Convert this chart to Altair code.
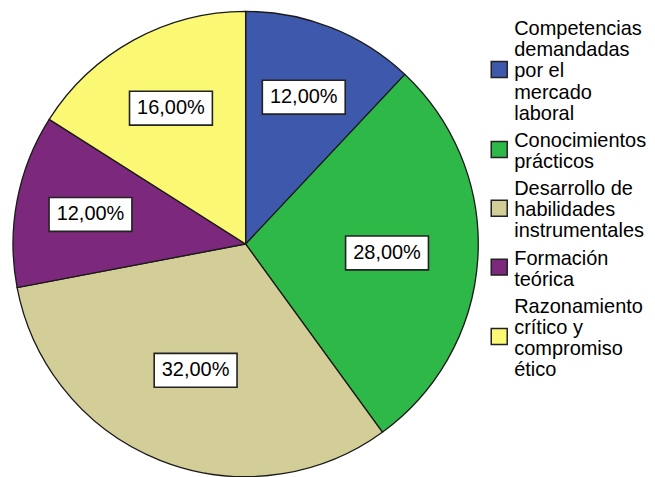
import altair as alt
import pandas as pd

cats = ["Competencias|demandadas|por el|mercado|laboral",
        "Conocimientos|prácticos",
        "Desarrollo de|habilidades|instrumentales",
        "Formación|teórica",
        "Razonamiento|crítico y|compromiso|ético"]
pct = [12, 28, 32, 12, 16]
colors = ["#3E58AC", "#2EB848", "#D3CE97", "#7C287D", "#FBF873"]
labels = ["12,00%", "28,00%", "32,00%", "12,00%", "16,00%"]

df = pd.DataFrame({"cat": cats, "pct": pct, "label": labels, "idx": list(range(len(cats)))})

W, H = 476, 468
R = 233
K = 162          # label distance factor (centroid-like placement)
LW = 163         # legend panel width
LH = 21.1        # legend line height
GAP = 6.2        # extra gap between legend entries
T0 = 19          # first legend line centre
FONT = "Liberation Sans"

color_scale = alt.Scale(domain=cats, range=colors)
base = alt.Chart(df)

pie = base.mark_arc(outerRadius=R, stroke="#1a1a1a", strokeWidth=1.3).encode(
    theta=alt.Theta("pct:Q", stack=True),
    color=alt.Color("cat:N", scale=color_scale, legend=None),
    order=alt.Order("idx:Q"),
)

pos = base.transform_joinaggregate(tot="sum(pct)").transform_window(
    cum="sum(pct)", sort=[alt.SortField("idx")], frame=[None, 0]
).transform_calculate(
    half="datum.pct / datum.tot * PI",
    ang="(datum.cum - datum.pct/2) / datum.tot * 2 * PI",
).transform_calculate(
    rr=f"{K} * sin(datum.half) / datum.half",
).transform_calculate(
    lx="datum.rr * sin(datum.ang)",
    ly="datum.rr * cos(datum.ang)",
)

xenc = alt.X("lx:Q", scale=alt.Scale(domain=[-W / 2, W / 2], nice=False, zero=False), axis=None)
yenc = alt.Y("ly:Q", scale=alt.Scale(domain=[-H / 2, H / 2], nice=False, zero=False), axis=None)

BW, BH = 83, 34
hb = BH / BW
box_path = f"M-1,{-hb:.4f}L1,{-hb:.4f}L1,{hb:.4f}L-1,{hb:.4f}Z"

boxes = pos.mark_point(
    shape=box_path, size=BW * BW, filled=True, fill="white",
    stroke="#222", strokeWidth=1.6, opacity=1,
).encode(x=xenc, y=yenc)

texts = pos.mark_text(font=FONT, fontSize=20, color="black", align="center", baseline="middle").encode(
    x=xenc, y=yenc, text="label:N"
)

pie_panel = alt.layer(pie, boxes, texts).properties(width=W, height=H)

# manual legend (symbol centred on its multi-line label)
leg = base.transform_calculate(
    nl="length(split(datum.cat, '|'))"
).transform_window(
    cnl="sum(nl)", sort=[alt.SortField("idx")], frame=[None, 0]
).transform_calculate(
    firsty=f"{T0} + (datum.cnl - datum.nl) * {LH} + datum.idx * {GAP}",
).transform_calculate(
    symy=f"datum.firsty + (datum.nl - 1) * {LH} / 2 - 2",
)

ly_scale = alt.Scale(domain=[0, H], reverse=True, nice=False, zero=False)

leg_sym = leg.mark_square(size=256, filled=True, stroke="#222", strokeWidth=1.5, opacity=1).encode(
    x=alt.value(16),
    y=alt.Y("symy:Q", scale=ly_scale, axis=None),
    color=alt.Color("cat:N", scale=color_scale, legend=None),
)
leg_txt = leg.mark_text(
    font=FONT, fontSize=20, color="black", align="left", baseline="middle",
    lineBreak="|", lineHeight=LH,
).encode(
    x=alt.value(31),
    y=alt.Y("firsty:Q", scale=ly_scale, axis=None),
    text="cat:N",
)
legend_panel = alt.layer(leg_sym, leg_txt).properties(width=LW, height=H)

chart = alt.hconcat(pie_panel, legend_panel, spacing=0).properties(
    padding=0
).configure_view(stroke=None)

chart.save("out.html", embed_options={"renderer": "svg", "actions": False})
